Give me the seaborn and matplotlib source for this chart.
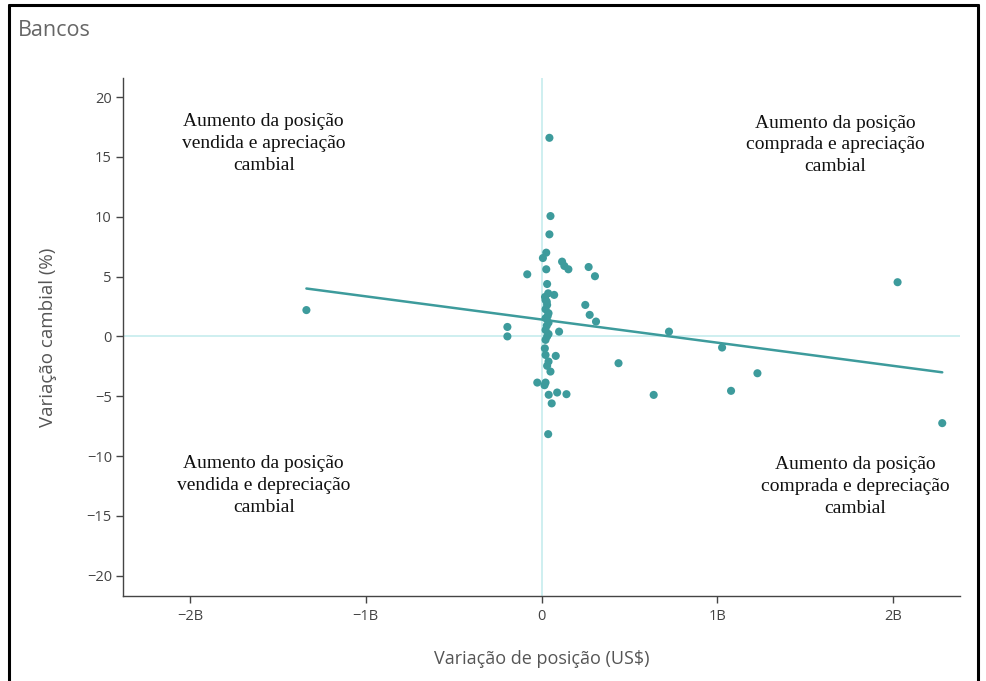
import numpy as np
import pandas as pd
import matplotlib
matplotlib.use("Agg")
import matplotlib.pyplot as plt
import seaborn as sns
from matplotlib.lines import Line2D
from matplotlib.ticker import FixedLocator, FixedFormatter

# Data (US$ billions, %)
pos_change = [-1.337, -0.194, -0.194, -0.081, 0.045, 0.051, 0.045, 0.027, 0.008, 0.027,
              0.117, 0.130, 0.153, 0.268, 0.304, 0.032, 0.038, 0.072, 0.023, 0.032,
              0.023, 0.040, 0.023, 0.040, 0.100, 0.023, 0.032, 0.023, 0.019, 0.023,
              0.081, 0.040, 0.051, -0.024, 0.023, 0.017, 0.041, 0.089, 0.142, 0.058,
              0.038, 0.249, 0.274, 0.310, 0.438, 0.638, 0.725, 1.027, 1.078, 1.228,
              2.025, 2.279, 0.030, 0.035, 0.030, 0.040, 0.032, 0.020]
fx_change = [2.20, 0.79, 0.00, 5.19, 16.60, 10.06, 8.53, 7.00, 6.55, 5.61,
             6.25, 5.89, 5.61, 5.80, 5.03, 4.38, 3.60, 3.47, 3.05, 2.63,
             2.27, 1.94, 1.52, 1.15, 0.40, 0.54, 0.00, -0.29, -1.00, -1.55,
             -1.63, -2.10, -2.94, -3.86, -3.86, -4.08, -4.88, -4.69, -4.83, -5.60,
             -8.17, 2.63, 1.80, 1.24, -2.24, -4.89, 0.40, -0.93, -4.55, -3.08,
             4.53, -7.25, 2.90, 1.70, 0.90, 0.20, -2.46, 3.30]

x_ticks = [-2, -1, 0, 1, 2]
x_tick_labels = ["\u22122B", "\u22121B", "0", "1B", "2B"]
y_ticks = [-20, -15, -10, -5, 0, 5, 10, 15, 20]
y_tick_labels = ["\u221220", "\u221215", "\u221210", "\u22125", "0", "5", "10", "15", "20"]

quadrant_texts = [
    (-1.58, 16.16, "Aumento da posição\nvendida e apreciação\ncambial"),
    (1.67, 16.0, "Aumento da posição\ncomprada e apreciação\ncambial"),
    (-1.58, -12.48, "Aumento da posição\nvendida e depreciação\ncambial"),
    (1.785, -12.57, "Aumento da posição\ncomprada e depreciação\ncambial"),
]

df = pd.DataFrame({"pos": pos_change, "fx": fx_change})

sns.set_style("white", {"xtick.bottom": True, "ytick.left": True})
plt.rcParams["font.family"] = ["Open Sans", "DejaVu Sans"]

color = "#3d9b9c"
fig = plt.figure(figsize=(9.86, 6.81), dpi=100)
ax = fig.add_axes([123 / 986, 1 - 596 / 681, (960 - 123) / 986, (596 - 78) / 681])

ax.axhline(0, color="#c6ecee", lw=1.2, zorder=0)
ax.axvline(0, color="#c6ecee", lw=1.2, zorder=0)

sns.regplot(data=df, x="pos", y="fx", ci=None, ax=ax,
            scatter_kws=dict(s=34, color=color, edgecolor="none", alpha=1, zorder=3),
            line_kws=dict(color=color, lw=1.8, zorder=2))

ax.set_xlim(-2.38, 2.38)
ax.set_ylim(-21.7, 21.6)
ax.xaxis.set_major_locator(FixedLocator(x_ticks))
ax.xaxis.set_major_formatter(FixedFormatter(x_tick_labels))
ax.yaxis.set_major_locator(FixedLocator(y_ticks))
ax.yaxis.set_major_formatter(FixedFormatter(y_tick_labels))

for s in ["top", "right"]:
    ax.spines[s].set_visible(False)
for s in ["left", "bottom"]:
    ax.spines[s].set_color("#444444")
    ax.spines[s].set_linewidth(1.0)
ax.tick_params(axis="both", direction="out", length=5, width=1, color="#444444",
               labelcolor="#444444", labelsize=10.5, pad=3, bottom=True, left=True)
ax.tick_params(axis="x", pad=4)

ax.set_xlabel("Variação de posição (US$)", fontsize=13, color="#555555", labelpad=19)
ax.set_ylabel("Variação cambial (%)", fontsize=13.5, color="#555555", labelpad=21)

for tx, ty, t in quadrant_texts:
    ax.text(tx, ty, t, ha="center", va="center", fontsize=14,
            family=["Liberation Serif", "DejaVu Serif"], color="#111111", linespacing=1.38)

fig.text(18 / 986, 1 - 30 / 681, "Bancos", fontsize=15.5, color="#666666",
         ha="left", va="center")

# outer frame (left, top, right)
fig.add_artist(Line2D([9 / 986, 9 / 986], [-0.05, 1 - 5 / 681], transform=fig.transFigure,
                      color="black", lw=2.2))
fig.add_artist(Line2D([9 / 986, 978 / 986], [1 - 5 / 681, 1 - 5 / 681], transform=fig.transFigure,
                      color="black", lw=2.2))
fig.add_artist(Line2D([978 / 986, 978 / 986], [-0.05, 1 - 5 / 681], transform=fig.transFigure,
                      color="black", lw=2.2))

fig.savefig("out.png", dpi=100)
